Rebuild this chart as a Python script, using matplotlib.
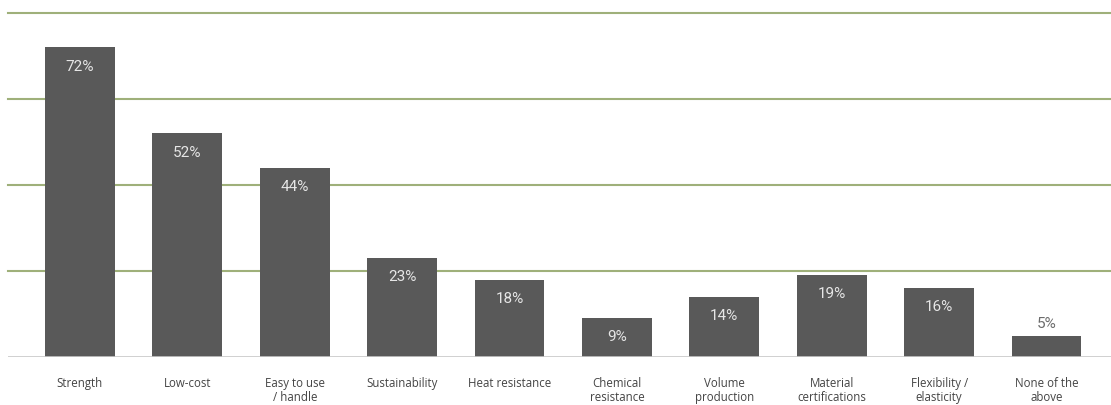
import matplotlib.pyplot as plt

# data
categories = ["Strength", "Low-cost", "Easy to use\n/ handle", "Sustainability",
              "Heat resistance", "Chemical\nresistance", "Volume\nproduction",
              "Material\ncertifications", "Flexibility /\nelasticity", "None of the\nabove"]
values = [72, 52, 44, 23, 18, 9, 14, 19, 16, 5]

plt.rcParams['font.family'] = ['Open Sans', 'DejaVu Sans']

fig = plt.figure(figsize=(11.11, 4.06), dpi=100)
ax = fig.add_axes([8 / 1111, 48 / 406, 1 - 8 / 1111, 344 / 406])

x = list(range(len(categories)))
ax.bar(x, values, width=0.65, color="#595959", zorder=3)

# gridlines
for g in [20, 40, 60, 80]:
    ax.axhline(g, color="#9fb07a", linewidth=1.5, zorder=1, clip_on=False)
ax.axhline(0, color="#c8c8c8", linewidth=1.2, zorder=4)

# value labels
for xi, v in zip(x, values):
    if v >= 8:
        ax.text(xi, v - 2.6, f"{v}%", ha="center", va="top", fontsize=11,
                color="#e6e6e6", zorder=5, family=['Roboto', 'DejaVu Sans'])
    else:
        ax.text(xi, v + 1.2, f"{v}%", ha="center", va="bottom", fontsize=11,
                color="#6b6b6b", zorder=5, family=['Roboto', 'DejaVu Sans'])

ax.set_xlim(-0.67, 9.6)
ax.set_ylim(0, 80)
ax.set_xticks(x)
ax.set_xticklabels(categories, fontsize=8.3, color="#444444", linespacing=1.05)
ax.tick_params(axis='x', length=0, pad=14)
ax.set_yticks([])
for s in ax.spines.values():
    s.set_visible(False)

fig.savefig("out.png", dpi=100)
